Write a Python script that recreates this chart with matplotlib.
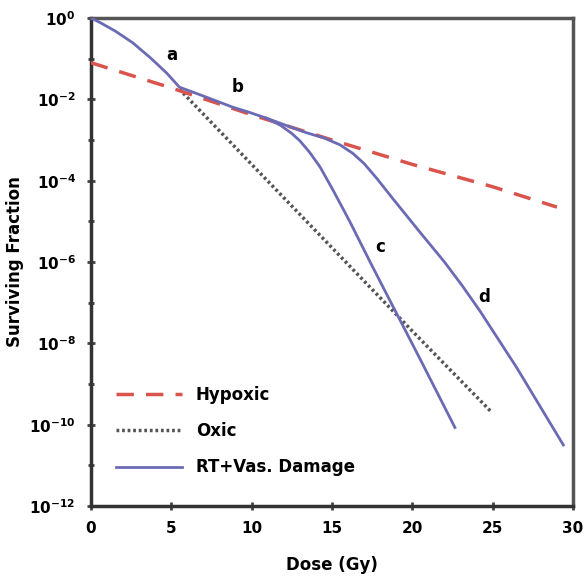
import numpy as np
import matplotlib
matplotlib.use("Agg")
import matplotlib.pyplot as plt

# --- Data (log10 surviving fraction) ---
hyp_dose = [0, 5, 10, 15, 20, 25, 29]
hyp_log = [-1.1, -1.72, -2.38, -3.0, -3.6, -4.15, -4.65]

oxic_dose = [5.5, 10, 15, 20, 24.95]
oxic_log = [-1.75, -3.6, -5.65, -7.7, -9.7]

# shared shoulder + branch "c"
rt_c_dose = [0, 0.6, 1.5, 2.6, 3.7, 4.7, 5.5, 6.8, 8.8, 9.7, 10.9, 11.8, 12.5, 13.0,
             13.6, 14.25, 15.06, 16.1, 17.5, 19.0, 20.5, 22.65]
rt_c_log = [0.0, -0.12, -0.32, -0.61, -0.98, -1.35, -1.70, -1.89, -2.19, -2.3, -2.46,
            -2.64, -2.84, -3.02, -3.3, -3.66, -4.23, -5.0, -6.1, -7.25, -8.4, -10.07]

# branch "d"
rt_d_dose = [10.9, 12.0, 13.4, 14.5, 15.5, 16.3, 17.0, 17.8, 18.8, 20.5, 22.0, 23.1,
             24.2, 26.5, 29.4]
rt_d_log = [-2.46, -2.62, -2.82, -2.95, -3.12, -3.33, -3.58, -3.95, -4.45, -5.28, -6.0,
            -6.58, -7.2, -8.6, -10.5]

labels = ["a", "b", "c", "d"]
label_dose = [5.0, 9.15, 18.0, 24.5]
label_log = [-0.91, -1.70, -5.63, -6.86]

ytick_exp = [0, -2, -4, -6, -8, -10, -12]
xticks = [0, 5, 10, 15, 20, 25, 30]

RED = "#d9544d"
BLUE = "#6b6bb5"
GREY = "#555555"
FONT = "DejaVu Sans"

fig = plt.figure(figsize=(5.85, 5.79), dpi=100)
ax = fig.add_axes([0.1556, 0.1261, 0.8239, 0.8428])

ax.plot(hyp_dose, 10.0 ** np.array(hyp_log), color=RED, lw=2.5,
        dashes=(5, 3.5), label="Hypoxic", zorder=3)
ax.plot(oxic_dose, 10.0 ** np.array(oxic_log), color=GREY, lw=2.5,
        dashes=(0.8, 0.8), label="Oxic", zorder=2)
ax.plot(rt_c_dose, 10.0 ** np.array(rt_c_log), color=BLUE, lw=2,
        label="RT+Vas. Damage", zorder=4)
ax.plot(rt_d_dose, 10.0 ** np.array(rt_d_log), color=BLUE, lw=2, zorder=4)

for t, d, v in zip(labels, label_dose, label_log):
    ax.text(d, 10.0 ** v, t, fontsize=12, fontweight="bold", family=FONT,
            ha="center", va="center")

ax.set_yscale("log")
ax.set_xlim(0, 30)
ax.set_ylim(1e-12, 1)
ax.set_yticks([10.0 ** e for e in ytick_exp])
ax.set_yticklabels([r"$\mathbf{10^{%d}}$" % e for e in ytick_exp])
ax.set_yticks([10.0 ** e for e in range(-11, 0, 2)], minor=True)
ax.set_yticklabels([], minor=True)
ax.set_xticks(xticks)
ax.set_xticklabels([str(x) for x in xticks])

for lab in ax.get_xticklabels() + ax.get_yticklabels():
    lab.set_fontweight("bold")
    lab.set_fontsize(11)
    lab.set_family(FONT)

ax.tick_params(axis="both", which="both", direction="inout", color="#444444",
               width=2, length=6, pad=8)
ax.tick_params(axis="y", which="minor", length=5)

for s in ax.spines.values():
    s.set_linewidth(2.5)
    s.set_color("#555555")
ax.spines["left"].set_color("#333333")
ax.spines["bottom"].set_color("#333333")

ax.set_xlabel("Dose (Gy)", fontsize=12, fontweight="bold", family=FONT, labelpad=14)
ax.set_ylabel("Surviving Fraction", fontsize=12, fontweight="bold", family=FONT, labelpad=4)

leg = ax.legend(loc="lower left", bbox_to_anchor=(0.02, 0.03), frameon=False,
                handlelength=4.0, labelspacing=1.1, handletextpad=0.8,
                prop={"family": FONT, "weight": "bold", "size": 12})

fig.savefig("out.png", dpi=100)
